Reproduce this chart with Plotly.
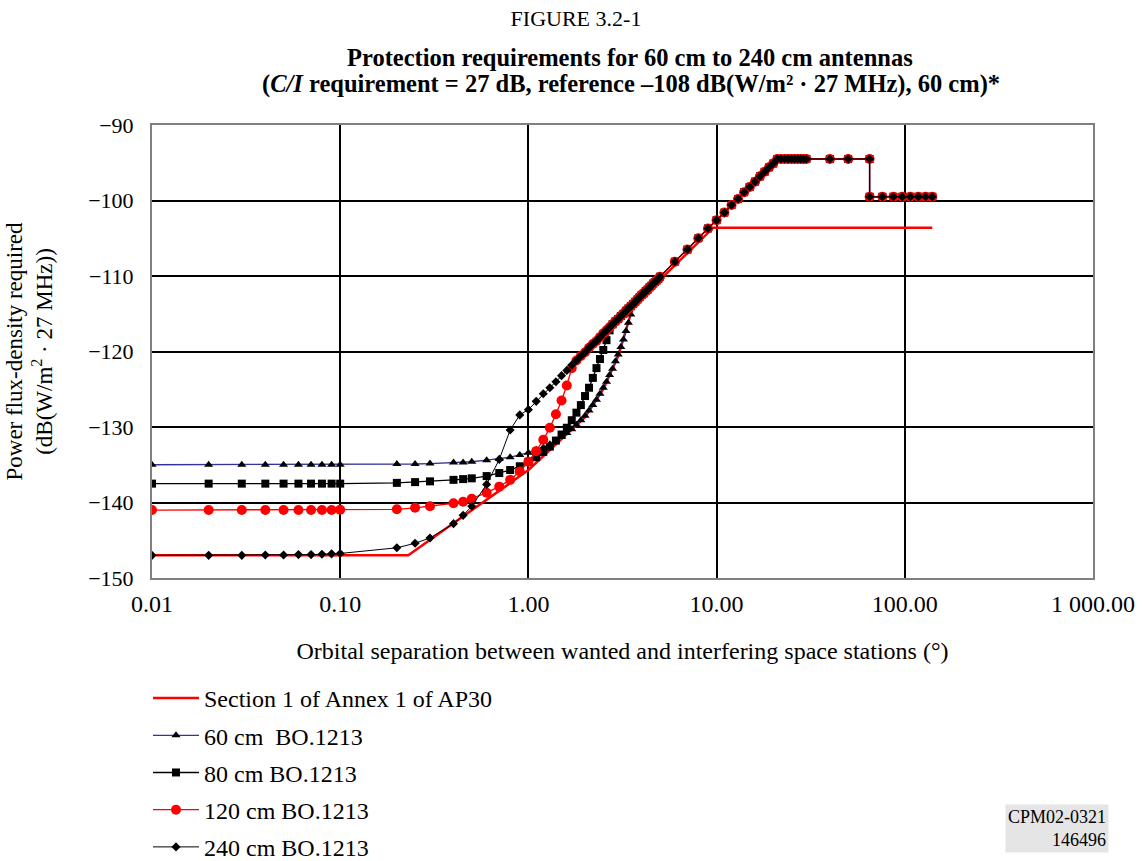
import plotly.graph_objects as go

# ---------------- data ----------------
theta_low = [0.01, 0.02, 0.03, 0.04, 0.05, 0.06, 0.07, 0.08, 0.09, 0.10,
             0.20, 0.25, 0.30, 0.40, 0.45, 0.50, 0.60, 0.70, 0.80, 0.90, 1.00]
theta_mid = [1.1, 1.2, 1.3, 1.4, 1.5, 1.6, 1.7, 1.8, 1.9, 2.0,
             2.1, 2.2, 2.3, 2.4, 2.5, 2.6, 2.7, 2.8, 2.9, 3.0,
             3.1, 3.2, 3.3, 3.4, 3.5, 3.6, 3.7, 3.8, 3.9, 4.0,
             4.1, 4.2, 4.3, 4.4, 4.5, 4.6, 4.7, 4.8, 4.9, 5.0]
theta_high = [6, 7, 8, 9, 10, 11, 12, 13, 14, 15, 16, 17, 18, 19, 20,
              21, 22, 23, 24, 25, 26, 27, 28, 29, 30, 40, 50, 65,
              65, 76, 87, 97, 107, 118, 129, 140]

# common part shared by all BO.1213 curves (side-lobe region)
common_mid = [-126.6, -125.6, -124.8, -124.0, -123.2, -122.5, -121.8, -121.2, -120.6, -120.1,
              -119.5, -119.0, -118.6, -118.1, -117.6, -117.2, -116.8, -116.4, -116.0, -115.7,
              -115.3, -115.0, -114.6, -114.3, -114.0, -113.7, -113.4, -113.1, -112.8, -112.5,
              -112.3, -112.0, -111.8, -111.5, -111.3, -111.0, -110.8, -110.6, -110.4, -110.1]
common_high = [-108.1, -106.5, -105.0, -103.7, -102.6, -101.6, -100.6, -99.8, -98.9, -98.2,
               -97.5, -96.8, -96.2, -95.6, -95.1,
               -94.5, -94.5, -94.5, -94.5, -94.5, -94.5, -94.5, -94.5, -94.5, -94.5, -94.5, -94.5, -94.5,
               -99.5, -99.5, -99.5, -99.5, -99.5, -99.5, -99.5, -99.5]

# main-lobe parts, different for each antenna size
pfd60_low = [-135.0, -135.0, -135.0, -135.0, -135.0, -135.0, -135.0, -135.0, -135.0, -135.0,
             -134.9, -134.9, -134.85, -134.7, -134.7, -134.6, -134.4, -134.2, -134.0, -133.7, -133.4]
pfd60_lead = [-133.0, -132.7, -132.3, -131.8, -131.3, -130.8, -130.3, -129.7, -129.1, -128.5,
              -127.8, -127.1, -126.4, -125.6, -124.8, -124.0, -123.1, -122.3, -121.3, -120.4,
              -119.4, -118.4, -117.3, -116.2, -115.1, -113.8]

pfd80_low = [-137.5, -137.5, -137.5, -137.5, -137.5, -137.5, -137.5, -137.5, -137.5, -137.5,
             -137.4, -137.3, -137.2, -137.0, -136.9, -136.8, -136.5, -136.1, -135.7, -135.2, -134.6]
pfd80_lead = [-134.0, -133.3, -132.6, -131.8, -131.0, -130.1, -129.1, -128.1, -127.1, -125.9,
              -124.8, -123.5, -122.2, -121.0, -119.8, -118.5, -117.2]

pfd120_low = [-141.0, -141.0, -141.0, -141.0, -141.0, -141.0, -141.0, -141.0, -141.0, -140.95,
              -140.9, -140.7, -140.5, -140.1, -139.9, -139.5, -138.7, -137.9, -137.0, -135.9, -134.6]
pfd120_lead = [-133.2, -131.7, -130.1, -128.3, -126.5, -124.5, -122.2]

pfd240_low = [-147.0, -147.0, -147.0, -146.95, -146.95, -146.9, -146.9, -146.85, -146.8, -146.75,
              -146.0, -145.4, -144.7, -142.8, -141.7, -140.5, -137.6, -134.3, -130.4, -128.4, -127.7]
pfd240_lead = []

# Section 1 of Annex 1 of AP30 mask
ap30_theta = [0.01, 0.23, 1.0, 1.6, 2.0, 2.5, 3.0, 3.6, 9.6, 140]
ap30_pfd = [-147.0, -147.0, -135.7, -131.0, -128.7, -125.0, -120.6, -114.0, -103.6, -103.6]

series_names = ["Section 1 of Annex 1 of AP30", "60 cm  BO.1213", "80 cm BO.1213",
                "120 cm BO.1213", "240 cm BO.1213"]

x_tickvals = [0.01, 0.1, 1, 10, 100, 1000]
x_ticktext = ["0.01", "0.10", "1.00", "10.00", "100.00", "1 000.00"]
y_tickvals = [-150, -140, -130, -120, -110, -100, -90]
y_ticktext = ["\u2212150", "\u2212140", "\u2212130", "\u2212120", "\u2212110", "\u2212100", "\u221290"]

# ---------------- figure ----------------
theta_all = theta_low + theta_mid + theta_high


def build(low, lead):
    return low + lead + common_mid[len(lead):] + common_high


FONT = "Liberation Serif, Times New Roman, serif"
fig = go.Figure()

fig.add_trace(go.Scatter(x=ap30_theta, y=ap30_pfd, mode="lines", name=series_names[0],
                         line=dict(color="#ff0000", width=2.5), legendgroup="a"))
fig.add_trace(go.Scatter(x=theta_all, y=build(pfd60_low, pfd60_lead), mode="lines+markers",
                         name=series_names[1], legendgroup="b",
                         line=dict(color="#333399", width=1.3),
                         marker=dict(symbol="triangle-up", size=8, color="black")))
fig.add_trace(go.Scatter(x=theta_all, y=build(pfd80_low, pfd80_lead), mode="lines+markers",
                         name=series_names[2], legendgroup="c",
                         line=dict(color="black", width=1.3),
                         marker=dict(symbol="square", size=8, color="black")))
fig.add_trace(go.Scatter(x=theta_all, y=build(pfd120_low, pfd120_lead), mode="lines+markers",
                         name=series_names[3], legendgroup="d",
                         line=dict(color="#ff0000", width=1.3),
                         marker=dict(symbol="circle", size=10, color="#ff0000")))
fig.add_trace(go.Scatter(x=theta_all, y=build(pfd240_low, pfd240_lead), mode="lines+markers",
                         name=series_names[4], legendgroup="e",
                         line=dict(color="black", width=1),
                         marker=dict(symbol="diamond", size=7, color="black")))

fig.update_layout(
    width=1144, height=861,
    margin=dict(l=152, r=51, t=125, b=283, autoexpand=False),
    paper_bgcolor="white", plot_bgcolor="white",
    font=dict(family=FONT, size=22, color="black"),
    title=dict(text="FIGURE 3.2-1", x=576 / 1144, xanchor="center", xref="container",
               y=1 - 18 / 861, yanchor="middle", yref="container",
               font=dict(family=FONT, size=22, color="black")),
    showlegend=True,
    legend=dict(orientation="v", x=-4 / 941, xanchor="left", y=-0.2163, yanchor="top",
                font=dict(family=FONT, size=24, color="black"),
                traceorder="grouped", tracegroupgap=3, itemwidth=46,
                bgcolor="rgba(0,0,0,0)"),
    annotations=[
        dict(text="<b>Protection requirements for 60 cm to 240 cm antennas</b>",
             x=(630 - 152) / 941, y=(578 - 58) / 453, xref="paper", yref="paper",
             xanchor="center", yanchor="middle", showarrow=False,
             font=dict(family=FONT, size=24.5, color="black")),
        dict(text="<b>(<i>C/I</i> requirement = 27 dB, reference \u2013108 dB(W/m\u00b2 \u00b7 27 MHz), 60 cm)*</b>",
             x=(631 - 152) / 941, y=(578 - 84) / 453, xref="paper", yref="paper",
             xanchor="center", yanchor="middle", showarrow=False,
             font=dict(family=FONT, size=24.5, color="black")),
        dict(text="CPM02-0321<br>146496",
             x=(1109 - 152) / 941, y=(578 - 828) / 453, xref="paper", yref="paper",
             showarrow=False, align="right", xanchor="right", yanchor="middle",
             bgcolor="#e5e5e5", borderpad=2,
             font=dict(family=FONT, size=18, color="black")),
    ],
)

fig.update_xaxes(type="log", range=[-2, 3], tickvals=x_tickvals, ticktext=x_ticktext,
                 showgrid=True, gridcolor="black", gridwidth=2,
                 showline=True, linecolor="#808080", linewidth=2, mirror=True,
                 ticks="", ticklabelstandoff=3, zeroline=False,
                 tickfont=dict(family=FONT, size=24),
                 title=dict(text="Orbital separation between wanted and interfering space stations (\u00b0)",
                            font=dict(family=FONT, size=24), standoff=26))
fig.update_yaxes(range=[-150, -90], tickvals=y_tickvals, ticktext=y_ticktext,
                 showgrid=True, gridcolor="black", gridwidth=2,
                 showline=True, linecolor="#808080", linewidth=2, mirror=True,
                 ticks="", ticklabelstandoff=12, zeroline=False,
                 tickfont=dict(family=FONT, size=22),
                 title=dict(text="Power flux-density required<br>(dB(W/m<sup>2</sup> \u00b7 27 MHz))",
                            font=dict(family=FONT, size=23), standoff=29))

fig.write_html("out.html")
